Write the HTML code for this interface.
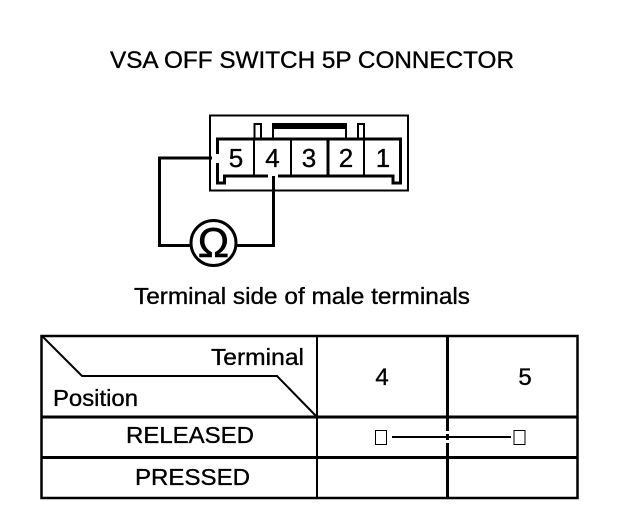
<!DOCTYPE html>
<html><head><meta charset="utf-8"><style>
html,body{margin:0;padding:0;background:#fff}
svg{display:block}
text{font-family:"Liberation Sans",sans-serif;fill:#000;stroke:#000;stroke-width:.35}
</style></head><body>
<svg width="624" height="528" viewBox="0 0 624 528" xmlns="http://www.w3.org/2000/svg">
<rect width="624" height="528" fill="#fff"/>
<text x="110" y="68" font-size="24" textLength="404" lengthAdjust="spacingAndGlyphs">VSA OFF SWITCH 5P CONNECTOR</text>

<g fill="none" stroke="#000">
<rect x="210" y="115.500" width="198" height="75" stroke-width="2"/>
<path d="M254.500 139V124H261V139M358 139V124H364V139" stroke-width="2"/>
<path d="M273 128V139M346 128V139" stroke-width="2"/>
<path d="M217.500 154V139H400.500V183H393V176H224.500V183H217.500V163" stroke-width="3"/>
<path d="M254 139V176M291 139V176M364 139V176" stroke-width="2"/>
<path d="M328 139V176" stroke-width="3"/>
<path d="M212 158H159.500V245.500H191M236 245.500H273.500V176" stroke-width="3"/>
<circle cx="213.500" cy="243" r="22.500" stroke-width="3"/>
</g>
<rect x="272" y="123" width="75" height="6"/>
<rect x="268" y="174" width="10" height="4" fill="#fff"/>
<rect x="272" y="176" width="3" height="4"/>
<g font-size="26" text-anchor="middle">
<text x="236" y="167">5</text>
<text x="272.500" y="167">4</text>
<text x="309" y="167">3</text>
<text x="346" y="167">2</text>
<text x="383" y="167">1</text>
</g>
<text x="213.500" y="257" font-size="42" text-anchor="middle" style="stroke-width:.6">Ω</text>

<text x="134" y="304" font-size="23" textLength="336" lengthAdjust="spacingAndGlyphs">Terminal side of male terminals</text>

<g fill="none" stroke="#000">
<rect x="41.500" y="336" width="536" height="162" stroke-width="2.500"/>
<path d="M41 417H578M41 457.500H578" stroke-width="3"/>
<path d="M317 336V498" stroke-width="2"/>
<path d="M447.500 336V498" stroke-width="3"/>
<path d="M42 336L82 376H277L317 417" stroke-width="2"/>
<path d="M392 437H511" stroke-width="2"/>
<rect x="375.500" y="430.500" width="11" height="14" stroke-width="1"/>
<rect x="514" y="430.500" width="11" height="14" stroke-width="1"/>
</g>
<rect x="445" y="431" width="6" height="3" fill="#fff"/>
<rect x="445" y="440" width="6" height="3" fill="#fff"/>
<g font-size="23">
<text x="211" y="365" textLength="93" lengthAdjust="spacingAndGlyphs">Terminal</text>
<text x="53" y="406" textLength="85" lengthAdjust="spacingAndGlyphs">Position</text>
<text x="126" y="443" textLength="128" lengthAdjust="spacingAndGlyphs">RELEASED</text>
<text x="135" y="485" textLength="115" lengthAdjust="spacingAndGlyphs">PRESSED</text>
<text x="382" y="385" text-anchor="middle" font-size="24">4</text>
<text x="525" y="385" text-anchor="middle" font-size="24">5</text>
</g>
</svg>
</body></html>
